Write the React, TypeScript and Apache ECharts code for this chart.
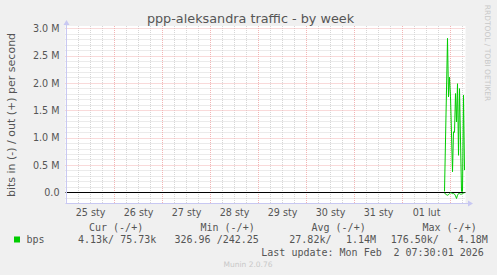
import React, { useEffect, useRef } from "react";
import * as echarts from "echarts";

// x values are hours since 25 sty 00:00 (one sample every 30 minutes)
const dayLabels = ["25 sty", "26 sty", "27 sty", "28 sty", "29 sty", "30 sty", "31 sty", "01 lut"];
const dayLabelHours = [12, 36, 60, 84, 108, 132, 156, 180];
const yTickValues = [0, 500000, 1000000, 1500000, 2000000, 2500000, 3000000];

const outHours = [189, 190.5, 191, 191.5, 192, 193, 193.5, 194, 194.5, 195, 195.5, 196, 196.5, 197.5, 198, 198.5, 199];
const outBps = [20000, 2820000, 1750000, 2110000, 1750000, 380000, 1110000, 1100000, 1810000, 1290000, 1990000, 680000, 1900000, 20000, 20000, 1780000, 410000];

const inHours = [189, 189.5, 190, 190.5, 191, 191.5, 192, 192.5, 193, 193.5, 194, 194.5, 195, 195.5, 196, 196.5, 197, 197.5, 198, 198.5, 199];
const inBps = [-5000, -30000, -40000, -50000, -40000, -20000, -5000, -10000, -20000, -20000, -30000, -60000, -110000, -50000, -20000, -20000, -30000, -30000, -20000, -10000, -5000];

const legendHeaders = ["Cur (-/+)", "Min (-/+)", "Avg (-/+)", "Max (-/+)"];
const legendValues = ["4.13k/ 75.73k", "326.96 /242.25", "27.82k/", "1.14M", "176.50k/", "4.18M"];

const X_MIN = -0.5;
const X_MAX = 199.5;
const Y_MIN = -192070;
const Y_MAX = 3045730;

const GREEN = "#00cc00";
const AXIS = "#c8c8f2";
const TEXT = "#555555";

export default function App() {
  const ref = useRef<HTMLDivElement>(null);

  useEffect(() => {
    if (!ref.current) return;
    const chart = echarts.init(ref.current, undefined, { renderer: "svg" });

    const xMinor: number[] = [];
    const xMajor: number[] = [];
    for (let h = 0; h <= 198; h += 6) (h % 24 === 0 ? xMajor : xMinor).push(h);
    const yMinor: number[] = [];
    const yMajor: number[] = [];
    for (let k = -1; k <= 30; k++) {
      if (k === 0) continue;
      (k % 5 === 0 ? yMajor : yMinor).push(k * 100000);
    }

    const gridSeries = (name: string, data: any[], color: string, z: number) => ({
      name,
      type: "line",
      data: [],
      z,
      silent: true,
      markLine: {
        silent: true,
        symbol: ["none", "none"],
        label: { show: false },
        emphasis: { disabled: true },
        animation: false,
        lineStyle: { color, width: 1, type: [1, 1] },
        data,
      },
    });

    const mono = "'DejaVu Sans Mono', monospace";
    const sans = "'DejaVu Sans', sans-serif";

    const headerX = [89, 200.5, 311.5, 422.5];
    const valueX = [78, 174.5, 289.3, 346, 390.7, 457.7];

    const graphics: any[] = [
      {
        type: "text",
        x: 250.5,
        y: 18.5,
        style: { text: "ppp-aleksandra traffic - by week", fill: TEXT, font: `12.8px ${sans}`, align: "center", verticalAlign: "middle" },
      },
      {
        type: "text",
        x: 11,
        y: 115,
        rotation: Math.PI / 2,
        style: { text: "bits in (-) / out (+) per second", fill: TEXT, font: `11px ${sans}`, align: "center", verticalAlign: "middle" },
      },
      {
        type: "text",
        x: 487.5,
        y: 53,
        rotation: -Math.PI / 2,
        style: { text: "RRDTOOL / TOBI OETIKER", fill: "#c8c8c8", font: `7.5px ${sans}`, align: "center", verticalAlign: "middle" },
      },
      // axes
      { type: "line", shape: { x1: 66.5, y1: 203, x2: 66.5, y2: 24 }, style: { stroke: AXIS, lineWidth: 1 }, z: 10 },
      { type: "polygon", shape: { points: [[63.5, 25], [69.5, 25], [66.5, 20]] }, style: { fill: AXIS }, z: 10 },
      { type: "line", shape: { x1: 65.5, y1: 203.5, x2: 469, y2: 203.5 }, style: { stroke: AXIS, lineWidth: 1 }, z: 10 },
      { type: "polygon", shape: { points: [[468, 200.5], [468, 206.5], [473, 203.5]] }, style: { fill: AXIS }, z: 10 },
      // legend
      { type: "rect", shape: { x: 14, y: 236.5, width: 6, height: 6 }, style: { fill: GREEN } },
      { type: "text", x: 26.5, y: 239.5, style: { text: "bps", fill: TEXT, font: `10px ${mono}`, verticalAlign: "middle" } },
      ...legendHeaders.map((t, i) => ({
        type: "text",
        x: headerX[i],
        y: 227.5,
        style: { text: t, fill: TEXT, font: `10px ${mono}`, verticalAlign: "middle" },
      })),
      ...legendValues.map((t, i) => ({
        type: "text",
        x: valueX[i],
        y: 239.5,
        style: { text: t, fill: TEXT, font: `10px ${mono}`, verticalAlign: "middle" },
      })),
      { type: "text", x: 261.3, y: 252, style: { text: "Last update: Mon Feb", fill: TEXT, font: `10px ${mono}`, verticalAlign: "middle" } },
      { type: "text", x: 483.8, y: 252, style: { text: "2 07:30:01 2026", fill: TEXT, font: `10px ${mono}`, align: "right", verticalAlign: "middle" } },
      { type: "text", x: 248, y: 264.5, style: { text: "Munin 2.0.76", fill: "#c8c8c8", font: `7.5px ${sans}`, align: "center", verticalAlign: "middle" } },
    ];

    chart.setOption({
      animation: false,
      backgroundColor: "#f0f0f0",
      textStyle: { fontFamily: sans },
      grid: { left: 65.5, top: 26, width: 400, height: 177, show: true, backgroundColor: "#ffffff", borderWidth: 0, containLabel: false },
      xAxis: {
        type: "value",
        min: X_MIN,
        max: X_MAX,
        axisLine: { show: false },
        axisTick: { show: false },
        splitLine: { show: false },
        axisLabel: {
          customValues: dayLabelHours,
          formatter: (v: number) => {
            const i = dayLabelHours.indexOf(v);
            return i >= 0 ? dayLabels[i] : "";
          },
          color: TEXT,
          fontSize: 9.6,
          fontFamily: sans,
          margin: 4,
        },
      },
      yAxis: {
        type: "value",
        min: Y_MIN,
        max: Y_MAX,
        axisLine: { show: false },
        axisTick: { show: false },
        splitLine: { show: false },
        axisLabel: {
          customValues: yTickValues,
          formatter: (v: number) => (v === 0 ? "0.0" : (v / 1e6).toFixed(1) + " M"),
          color: TEXT,
          fontSize: 9.6,
          fontFamily: sans,
          margin: 6,
        },
      },
      graphic: graphics,
      series: [
        gridSeries("minorX", xMinor.map((h) => ({ xAxis: h })), "#d6d6d6", 1),
        gridSeries("minorY", yMinor.map((v) => ({ yAxis: v })), "#d6d6d6", 1),
        gridSeries("majorX", xMajor.map((h) => ({ xAxis: h })), "#f2b4b4", 2),
        gridSeries("majorY", yMajor.map((v) => ({ yAxis: v })), "#f2b4b4", 2),
        {
          name: "out",
          type: "line",
          data: outHours.map((h, i) => [h, outBps[i]]),
          showSymbol: false,
          symbol: "none",
          lineStyle: { color: GREEN, width: 1 },
          z: 5,
          silent: true,
        },
        {
          name: "in",
          type: "line",
          data: inHours.map((h, i) => [h, inBps[i]]),
          showSymbol: false,
          symbol: "none",
          lineStyle: { color: GREEN, width: 1 },
          z: 5,
          silent: true,
        },
        {
          name: "zero",
          type: "line",
          data: [],
          z: 6,
          silent: true,
          markLine: {
            silent: true,
            symbol: ["none", "none"],
            label: { show: false },
            emphasis: { disabled: true },
            lineStyle: { color: "#000000", width: 1.2, type: "solid" },
            data: [{ yAxis: 0 }],
          },
        },
      ],
    });

    return () => chart.dispose();
  }, []);

  return (
    <div
      ref={ref}
      style={{ position: "fixed", left: 0, top: 0, width: 497, height: 275, background: "#f0f0f0" }}
    />
  );
}
